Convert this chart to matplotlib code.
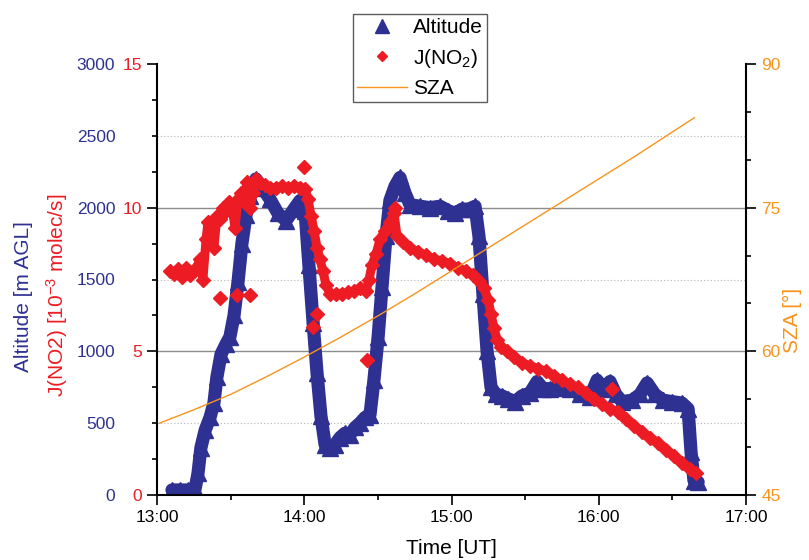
"""
Vuelo del 13:00 a 17:00 UT: altitud, J(NO2) y angulo cenital solar (SZA).
Tres ejes Y: altitud y J(NO2) a la izquierda, SZA a la derecha.
"""
import matplotlib.pyplot as plt
from matplotlib.lines import Line2D
from matplotlib.ticker import MultipleLocator

plt.rcParams['font.family'] = ['Liberation Sans', 'DejaVu Sans']
plt.rcParams['mathtext.default'] = 'regular'

AZUL = '#2E3192'
ROJO = '#ED1C24'
NARANJA = '#F7941D'

# tiempos en minutos desde las 13:00 UT
alt_min = [6.1, 9.4, 12.6, 15.5, 16.7, 17.9, 19.6, 21.6, 23.2, 24.4, 26.1, 28.1, 29.7,
           31.4, 33.0, 34.6, 36.3, 37.9, 40.3, 42.8, 46.0, 49.3, 52.6, 55.8, 58.3,
           60.3, 61.9, 63.6, 65.2, 66.8, 68.5, 70.5, 72.5, 74.6, 76.6, 78.6, 80.7,
           82.7, 84.8, 86.8, 88.4, 90.1, 91.7, 93.3, 94.9, 97.0, 99.0, 101.1, 103.1,
           107.2, 111.2, 115.3, 118.6, 121.4, 124.3, 127.5, 129.6, 131.2, 132.8,
           134.5, 136.1, 138.1, 140.6, 143.0, 145.9, 148.7, 152.0, 154.9, 157.3,
           160.1, 164.2, 168.3, 172.4, 176.4, 179.3, 181.7, 184.6, 187.0, 189.5,
           193.6, 196.8, 199.7, 202.9, 206.2, 209.9, 213.9, 216.4, 217.6, 218.8, 220.5]
alt_m = [35, 35, 35, 40, 150, 330, 450, 540, 640, 820, 980, 1050, 1100,
         1250, 1480, 1750, 1950, 2080, 2200, 2140, 2060, 1960, 1910, 1990, 2050,
         1980, 1600, 1200, 850, 550, 350, 330, 350, 400, 430, 420, 470,
         500, 540, 560, 800, 1100, 1450, 1800, 2050, 2150, 2210, 2100, 2020,
         2010, 2000, 2010, 1980, 1960, 1990, 1990, 2010, 1800, 1400,
         1000, 750, 700, 690, 670, 650, 690, 710, 790, 740,
         740, 745, 740, 700, 680, 800, 740, 790, 700, 650,
         660, 700, 780, 700, 660, 650, 640, 600, 300, 100, 90]

jno2_min = [5.3, 6.9, 8.6, 10.2, 11.8, 13.4, 15.1, 16.3, 17.5, 18.7, 20.0, 20.8, 22.0,
            23.2, 24.4, 25.7, 26.9, 28.1, 29.3, 30.6, 31.8, 33.0, 34.2, 35.5, 36.7,
            37.9, 39.1, 40.3, 42.0, 44.0, 46.0, 48.5, 51.0, 53.4, 55.8, 58.3, 60.3,
            61.5, 62.8, 64.0, 65.2, 66.4, 67.6, 68.9, 70.5, 73.0, 75.4, 77.8, 80.3,
            82.7, 85.2, 86.4, 87.6, 89.3, 90.9, 92.9, 94.9, 96.6, 97.8, 100.2, 103.1,
            106.4, 109.6, 112.9, 116.1, 119.4, 122.7, 125.9, 128.8, 131.2, 133.3,
            134.9, 136.1, 137.3, 138.6, 140.2, 142.6, 145.5, 148.7, 152.0, 155.3,
            158.5, 161.8, 165.0, 168.3, 171.6, 174.8, 178.1, 181.3, 184.6, 187.9,
            191.1, 194.4, 197.6, 200.9, 204.2, 207.4, 210.7, 213.9, 217.2, 219.6]
jno2_val = [7.8, 7.7, 7.85, 7.6, 7.9, 7.65, 7.8, 7.95, 8.2, 7.5, 8.9, 9.5, 9.3,
            8.6, 9.7, 9.6, 10.0, 9.9, 10.2, 10.0, 9.3, 10.3, 10.5, 10.2, 10.9,
            10.0, 10.5, 11.0, 10.85, 10.8, 10.7, 10.7, 10.75, 10.7, 10.75, 10.7, 10.65,
            10.3, 9.7, 9.2, 8.6, 8.2, 7.8, 7.3, 7.0, 7.0, 7.0, 7.05, 7.1,
            7.2, 7.1, 7.5, 8.0, 8.4, 8.9, 9.2, 9.5, 9.8, 9.0, 8.8, 8.6,
            8.45, 8.35, 8.2, 8.15, 8.05, 7.9, 7.8, 7.65, 7.45, 7.2,
            6.8, 6.3, 5.8, 5.4, 5.15, 5.0, 4.8, 4.6, 4.5, 4.4,
            4.3, 4.15, 4.0, 3.85, 3.75, 3.55, 3.35, 3.15, 3.0, 2.9,
            2.65, 2.4, 2.2, 2.0, 1.8, 1.55, 1.35, 1.1, 0.9, 0.75]

# puntos aislados de J(NO2)
jno2_sueltos_min = [25.7, 32.6, 37.9, 59.9, 63.6, 65.2, 85.6, 97.0, 185.4]
jno2_sueltos_val = [6.86, 6.96, 6.96, 11.4, 5.85, 6.3, 4.7, 10.0, 3.7]

sza_min = [1, 15, 30, 45, 60, 75, 90, 105, 120, 135, 150, 165, 180, 195, 210, 219]
sza_deg = [52.5, 53.9, 55.5, 57.4, 59.4, 61.5, 63.7, 66.0, 68.4, 70.8, 73.2, 75.6,
           78.0, 80.4, 82.9, 84.4]

horas_ticks = [13, 14, 15, 16, 17]
horas_labels = ['13:00', '14:00', '15:00', '16:00', '17:00']


def horas(minutos):
    return [13 + m / 60 for m in minutos]


fig = plt.figure(figsize=(8.09, 5.60), dpi=100)
ax_alt = fig.add_axes([157 / 809, 1 - 495 / 560, 589 / 809, 431 / 560])
ax_j = ax_alt.twinx()
ax_sza = ax_alt.twinx()
for a in (ax_alt, ax_j, ax_sza):
    a.patch.set_visible(False)
    for s in a.spines.values():
        s.set_visible(False)
        s.set_linewidth(1.5)

# lineas de referencia
for v in (1000, 2000):
    ax_alt.axhline(v, color='#8c8c8c', lw=1.0, zorder=0.5)
for v in (500, 1500, 2500):
    ax_alt.axhline(v, color='#b4b4b4', lw=0.8, ls=(0, (1, 2)), zorder=0.5)

# altitud
ax_alt.plot(horas(alt_min), alt_m, color=AZUL, lw=9.5, marker='^', ms=12,
            solid_joinstyle='round', solid_capstyle='round')
ax_alt.set_ylim(0, 3000)
ax_alt.set_yticks(range(0, 3001, 500))
ax_alt.tick_params(axis='y', length=0, pad=30, labelcolor=AZUL, labelsize=12.5)
ax_alt.spines['bottom'].set_visible(True)
ax_alt.set_xlim(13, 17)
ax_alt.set_xticks(horas_ticks)
ax_alt.set_xticklabels(horas_labels)
ax_alt.xaxis.set_minor_locator(MultipleLocator(0.5))
ax_alt.tick_params(axis='x', which='major', length=7, width=1.2, pad=4, labelsize=12.5)
ax_alt.tick_params(axis='x', which='minor', length=3.6, width=1.2)

# J(NO2)
ax_j.plot(horas(jno2_min), jno2_val, color=ROJO, lw=6.5, marker='D', ms=7,
          solid_joinstyle='round', solid_capstyle='round')
ax_j.plot(horas(jno2_sueltos_min), jno2_sueltos_val, ls='none', marker='D', ms=7,
          color=ROJO)
ax_j.set_ylim(0, 15)
ax_j.yaxis.tick_left()
ax_j.spines['left'].set_visible(True)
ax_j.yaxis.set_major_locator(MultipleLocator(5))
ax_j.yaxis.set_minor_locator(MultipleLocator(1.25))
ax_j.tick_params(axis='y', which='major', length=7, width=1.2, pad=4,
                 labelcolor=ROJO, labelsize=12.5)
ax_j.tick_params(axis='y', which='minor', length=3.6, width=1.2)

# SZA
ax_sza.plot(horas(sza_min), sza_deg, color=NARANJA, lw=1.0)
ax_sza.set_ylim(45, 90)
ax_sza.spines['right'].set_visible(True)
ax_sza.yaxis.set_major_locator(MultipleLocator(15))
ax_sza.yaxis.set_minor_locator(MultipleLocator(5))
ax_sza.tick_params(axis='y', which='major', length=7, width=1.2, pad=4,
                   labelcolor=NARANJA, labelsize=12.5)
ax_sza.tick_params(axis='y', which='minor', length=3.6, width=1.2)

# titulos de ejes
fig.text(24 / 809, 1 - 297 / 560, 'Altitude [m AGL]', rotation=90, ha='center',
         va='center', color=AZUL, fontsize=15)
fig.text(57 / 809, 1 - 295 / 560, 'J(NO2) [10$^{-3}$ molec/s]', rotation=90,
         ha='center', va='center', color=ROJO, fontsize=15)
fig.text(792 / 809, 1 - 320 / 560, 'SZA [°]', rotation=90, ha='center',
         va='center', color=NARANJA, fontsize=15)
fig.text(451 / 809, 1 - 548 / 560, 'Time [UT]', ha='center', va='center',
         fontsize=15)

handles = [
    Line2D([], [], ls='none', marker='^', ms=10, color=AZUL),
    Line2D([], [], ls='none', marker='D', ms=5, color=ROJO),
    Line2D([], [], color=NARANJA, lw=1.0),
]
leg = fig.legend(handles, ['Altitude', 'J(NO$_2$)', 'SZA'], loc='upper left',
                 bbox_to_anchor=(353 / 809, 1 - 14 / 560), fontsize=15,
                 frameon=True, fancybox=False, borderpad=0.2, handlelength=2.4,
                 handletextpad=0.3, labelspacing=0.45, borderaxespad=0)
leg.get_frame().set_edgecolor('#333333')
leg.get_frame().set_linewidth(1.0)

fig.savefig('out.png', dpi=100, facecolor='white')
